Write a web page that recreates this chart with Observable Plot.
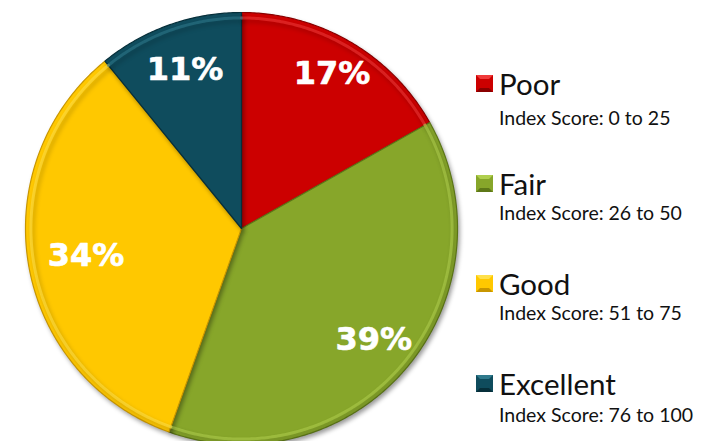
<!DOCTYPE html>
<html>
<head>
<meta charset="utf-8">
<script src="https://cdn.jsdelivr.net/npm/d3@7"></script>
<script src="https://cdn.jsdelivr.net/npm/@observablehq/plot@0.6"></script>
<style>
  html, body { margin: 0; padding: 0; background: #fff; }
  #wrap { position: relative; width: 715px; height: 441px; overflow: hidden; }
  #wrap svg { overflow: hidden; }
  .leg { position: absolute; left: 476px; font-family: Lato, "Open Sans", sans-serif; color: #111; }
  .sw { position: absolute; left: 0; width: 17px; height: 17px; box-sizing: border-box; border: 4px solid; }
  .lab { position: absolute; left: 23px; font-size: 29.5px; line-height: 29px; white-space: nowrap; }
  .sub { position: absolute; left: 23px; font-size: 19.5px; line-height: 19px; white-space: nowrap; }
</style>
</head>
<body>
<div id="wrap"></div>
<script>
const categories = ["Poor", "Fair", "Good", "Excellent"];
const percents = [17, 39, 34, 11];
const ranges = ["Index Score: 0 to 25", "Index Score: 26 to 50", "Index Score: 51 to 75", "Index Score: 76 to 100"];
const colors = ["#CC0000", "#87A62A", "#FFC800", "#0F4C5D"];
const light = ["#F03A3A", "#B0CF4E", "#FFE04A", "#2F7A8C"];
const dark = ["#8A0000", "#5E7818", "#C89600", "#062F3A"];
// layout: how far out (fraction of radius) each label sits; legend sub-line offsets
const labelRadius = [0.83, 0.80, 0.73, 0.78];
const subTop = [40, 35, 35, 37];

const total = d3.sum(percents);
let cum = 0;
const slices = percents.map((p, i) => {
  const a0 = cum / total * 2 * Math.PI;
  cum += p;
  const a1 = cum / total * 2 * Math.PI;
  const n = Math.max(8, Math.ceil((a1 - a0) / 0.01));
  const pts = [{x: 0, y: 0}];
  for (let k = 0; k <= n; k++) {
    const t = a0 + (a1 - a0) * k / n;
    pts.push({x: Math.sin(t), y: Math.cos(t)});
  }
  pts.push({x: 0, y: 0});
  const am = (a0 + a1) / 2;
  const lr = labelRadius[i];
  return {i, pts, label: {x: lr * Math.sin(am), y: lr * Math.cos(am), text: p + "%"}};
});

const marks = slices.map(s => Plot.line(s.pts, {
  x: "x", y: "y", fill: colors[s.i], stroke: dark[s.i], strokeWidth: 1.2, curve: "linear"
}));
const rims = slices.map(s => Plot.line(s.pts.slice(1, -1).map(d => ({x: d.x * 0.975, y: d.y * 0.975})), {
  x: "x", y: "y", stroke: light[s.i], strokeWidth: 3, strokeOpacity: 0.55
}));

const chart = Plot.plot({
  width: 715,
  height: 441,
  margin: 0,
  x: {domain: [-1, 1], range: [25, 457], axis: null},
  y: {domain: [-1, 1], range: [444, 12], axis: null},
  marks: [
    ...marks,
    ...rims,
    Plot.text(slices.map(s => s.label), {
      x: "x", y: "y", text: "text", fill: "white",
      fontSize: 32, fontWeight: "bold", fontFamily: "DejaVu Sans, Verdana, sans-serif",
      letterSpacing: 1, stroke: "white", strokeWidth: 0.6
    })
  ]
});
d3.select(chart).selectAll("g[aria-label='line']")
  .style("filter", "drop-shadow(2px 3px 2px rgba(0,0,0,0.35))");
document.getElementById("wrap").appendChild(chart);

const wrap = d3.select("#wrap");
categories.forEach((c, i) => {
  const g = wrap.append("div").attr("class", "leg").style("top", (68 + 100 * i) + "px");
  g.append("div").attr("class", "sw")
    .style("top", "7px")
    .style("background", colors[i])
    .style("border-top-color", light[i])
    .style("border-left-color", colors[i])
    .style("border-right-color", colors[i])
    .style("border-bottom-color", dark[i]);
  g.append("div").attr("class", "lab").style("top", "1px").text(c);
  g.append("div").attr("class", "sub").style("top", subTop[i] + "px").text(ranges[i]);
});
</script>
</body>
</html>
